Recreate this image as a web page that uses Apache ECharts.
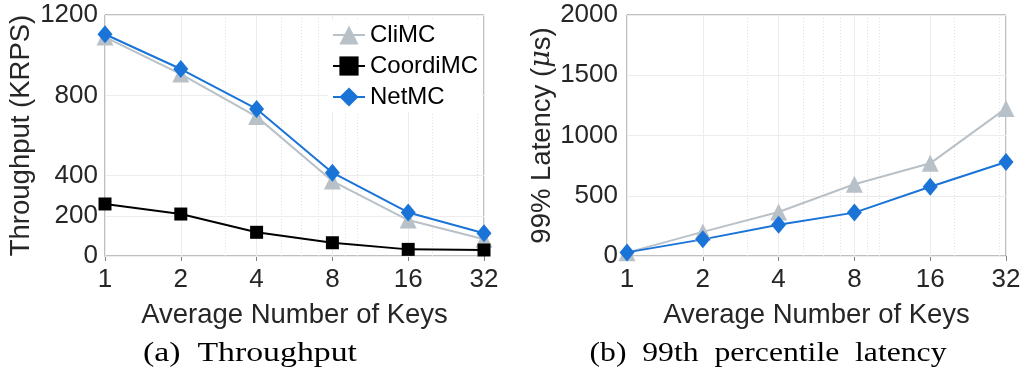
<!DOCTYPE html>
<html><head><meta charset="utf-8">
<script src="https://cdn.jsdelivr.net/npm/echarts@6/dist/echarts.min.js"></script>
<style>html,body{margin:0;padding:0;background:#fff}#c{width:1024px;height:369px}</style>
</head><body><div id="c"></div>
<script>
const keys = [1, 2, 4, 8, 16, 32];
const thrCliMC = [1090, 906, 694, 373, 179, 83];
const thrCoordiMC = [259, 209, 118, 66, 33, 30];
const thrNetMC = [1104, 931, 732, 415, 217, 113];
const latCliMC = [28, 200, 365, 595, 769, 1225];
const latNetMC = [30, 138, 260, 360, 575, 780];
const thrTicks = [0, 200, 400, 800, 1200];
const latTicks = [0, 500, 1000, 1500, 2000];
const minorX = [3, 5, 6, 7, 9, 10, 20, 30];

const FONT = 'Liberation Sans';
const TXT = '#262626';
const AX = '#808080';
const GRAY = '#b9c1c8', BLUE = '#1a74d8', BLACK = '#000000';

function pairs(vals){ return keys.map((k,i)=>[k, vals[i]]); }

function gridMarks(yTicks){
  const d = [];
  keys.forEach(k=>d.push({xAxis:k, lineStyle:{color:'#ececec', type:'solid', width:1}}));
  minorX.forEach(k=>d.push({xAxis:k, lineStyle:{color:'#e2e2e2', type:[1,2], width:1}}));
  yTicks.forEach(v=>d.push({yAxis:v, lineStyle:{color:'#ececec', type:'solid', width:1}}));
  return {silent:true, symbol:'none', label:{show:false}, animation:false, data:d, z:1};
}

function xAxes(gi){
  return [{
    gridIndex: gi, type:'log', logBase:2, min:1, max:32,
    axisLine:{lineStyle:{color:AX}}, axisTick:{inside:true, length:5, lineStyle:{color:AX}},
    axisLabel:{color:TXT, fontFamily:FONT, fontSize:26, margin:11, formatter:v=>String(v)},
    splitLine:{show:false}, minorTick:{show:false},
    name:'Average Number of Keys', nameLocation:'middle', nameGap:45,
    nameTextStyle:{color:TXT, fontFamily:FONT, fontSize:27.5}
  },{
    gridIndex: gi, type:'log', logBase:2, min:1, max:32, position:'top',
    axisLine:{show:false}, axisTick:{inside:true, length:5, lineStyle:{color:AX}},
    axisLabel:{show:false}, splitLine:{show:false}
  }];
}
function yAxes(gi, max, ticks, margin, nameObj){
  return [Object.assign({
    gridIndex: gi, type:'value', min:0, max:max,
    axisLine:{show:true, lineStyle:{color:AX}},
    axisTick:{show:true, inside:true, length:5, lineStyle:{color:AX}, customValues:ticks},
    axisLabel:{color:TXT, fontFamily:FONT, fontSize:26, margin:margin, customValues:ticks, formatter:v=>String(v)},
    splitLine:{show:false}
  }, nameObj),{
    gridIndex: gi, type:'value', min:0, max:max, position:'right',
    axisLine:{show:false},
    axisTick:{show:true, inside:true, length:5, lineStyle:{color:AX}, customValues:ticks},
    axisLabel:{show:false, customValues:ticks}, splitLine:{show:false}
  }];
}

function fitScale(text, font, target){
  const ctx = document.createElement('canvas').getContext('2d');
  ctx.font = font;
  return target / ctx.measureText(text).width;
}
const capFont = '27px "Liberation Serif"';
const capA = '(a)  Throughput', capB = '(b)  99th  percentile  latency';
const sA = fitScale(capA, capFont, 214), sB = fitScale(capB, capFont, 357);

const chart = echarts.init(document.getElementById('c'), null, {renderer:'canvas'});
const lineBase = {type:'line', animation:false, z:3};
chart.setOption({
  backgroundColor:'#fff',
  textStyle:{fontFamily:FONT},
  grid:[
    {left:105, top:15, width:379, height:241, show:true, borderColor:AX, borderWidth:1, backgroundColor:'transparent'},
    {left:627, top:15, width:379, height:241, show:true, borderColor:AX, borderWidth:1, backgroundColor:'transparent'}
  ],
  xAxis:[...xAxes(0), ...xAxes(1)],
  yAxis:[
    ...yAxes(0, 1200, thrTicks, 7, {name:'Throughput (KRPS)', nameLocation:'middle', nameGap:70,
       nameTextStyle:{color:TXT, fontFamily:FONT, fontSize:27.5}}),
    ...yAxes(1, 2000, latTicks, 9, {name:'99% Latency ({i|μ}s)', nameLocation:'middle', nameGap:70,
       nameTextStyle:{color:TXT, fontFamily:FONT, fontSize:27.5, rich:{i:{fontStyle:'italic', fontFamily:'DejaVu Serif', fontSize:27, color:TXT}}}})
  ],
  legend:{
    orient:'vertical', left:328, top:20, itemGap:7, itemWidth:32, itemHeight:24,
    backgroundColor:'#ffffff', padding:[3,4,3,4],
    textStyle:{color:'#000', fontFamily:FONT, fontSize:24, padding:[0,0,0,0]},
    data:['CliMC','CoordiMC','NetMC'], selectedMode:false
  },
  series:[
    Object.assign({}, lineBase, {name:'CliMC', xAxisIndex:0, yAxisIndex:0, data:pairs(thrCliMC),
      color:GRAY, symbol:'triangle', symbolSize:17, itemStyle:{color:GRAY}, lineStyle:{width:2, color:GRAY},
      markLine:gridMarks(thrTicks)}),
    Object.assign({}, lineBase, {name:'CoordiMC', xAxisIndex:0, yAxisIndex:0, data:pairs(thrCoordiMC),
      color:BLACK, symbol:'rect', symbolSize:13, itemStyle:{color:BLACK}, lineStyle:{width:2, color:BLACK}}),
    Object.assign({}, lineBase, {name:'NetMC', xAxisIndex:0, yAxisIndex:0, data:pairs(thrNetMC),
      color:BLUE, symbol:'diamond', symbolSize:[15,18], itemStyle:{color:BLUE}, lineStyle:{width:2, color:BLUE}}),
    Object.assign({}, lineBase, {name:'CliMC', xAxisIndex:2, yAxisIndex:2, data:pairs(latCliMC),
      color:GRAY, symbol:'triangle', symbolSize:17, itemStyle:{color:GRAY}, lineStyle:{width:2, color:GRAY},
      markLine:gridMarks(latTicks)}),
    Object.assign({}, lineBase, {name:'NetMC', xAxisIndex:2, yAxisIndex:2, data:pairs(latNetMC),
      color:BLUE, symbol:'diamond', symbolSize:[15,18], itemStyle:{color:BLUE}, lineStyle:{width:2, color:BLUE}})
  ],
  graphic:[
    {type:'text', x:250, y:354, scaleX:sA, style:{text:capA, fill:'#000', font:capFont, align:'center', verticalAlign:'middle'}},
    {type:'text', x:768, y:354, scaleX:sB, style:{text:capB, fill:'#000', font:capFont, align:'center', verticalAlign:'middle'}}
  ]
});
</script></body></html>
